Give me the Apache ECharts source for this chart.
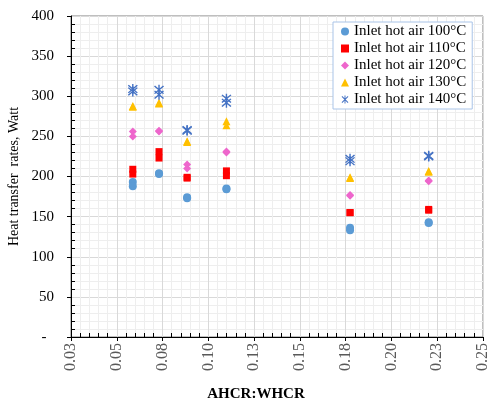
<!DOCTYPE html>
<html>
<head>
<meta charset="utf-8">
<script src="https://cdn.jsdelivr.net/npm/echarts@6/dist/echarts.min.js"></script>
<style>
  html, body { margin: 0; padding: 0; background: #fff; }
  #chart { width: 488px; height: 403px; }
</style>
</head>
<body>
<div id="chart"></div>
<script>
// two replicate runs per AHCR:WHCR ratio
const ratios = [0.063, 0.063, 0.077, 0.077, 0.092, 0.092, 0.113, 0.113, 0.179, 0.179, 0.221, 0.221];

const heat100 = [193, 188, 204, 203, 174, 173, 185, 184, 136, 133, 143, 142];
const heat110 = [209, 203, 231, 223, 199, 198, 207, 201, 155, 155, 159, 158];
const heat120 = [256, 250, 257, 256, 215, 210, 231, 230, 177, 176, 195, 194];
const heat130 = [288, 287, 292, 291, 244, 243, 269, 264, 199, 198, 207, 206];
const heat140 = [309, 306, 308, 302, 258, 257, 297, 292, 222, 219, 226, 225];

const seriesNames = ['Inlet hot air 100°C', 'Inlet hot air 110°C', 'Inlet hot air 120°C',
    'Inlet hot air 130°C', 'Inlet hot air 140°C'];

const X_MIN = 0.03, X_MAX = 0.25, X_STEP = (0.25 - 0.03) / 9;

// asterisk marker (x plus vertical bar), like the Excel star
const STAR = 'path://M-0.12,-1L0.12,-1L0.12,1L-0.12,1Z' +
    'M-0.85,-0.68L-0.68,-0.85L0.85,0.68L0.68,0.85Z' +
    'M0.68,-0.85L0.85,-0.68L-0.68,0.85L-0.85,0.68Z';

const styles = [
    { color: '#5B9BD5', symbol: 'circle', size: 8 },
    { color: '#FF0000', symbol: 'rect', size: 7 },
    { color: '#EE66CC', symbol: 'diamond', size: 8 },
    { color: '#FFC000', symbol: 'triangle', size: 8 },
    { color: '#4472C4', symbol: STAR, size: 10 },
];

const FONT = '"Liberation Serif", "Times New Roman", serif';

const chart = echarts.init(document.getElementById('chart'), null, { renderer: 'canvas' });

const values = [heat100, heat110, heat120, heat130, heat140];
const series = values.map((ys, i) => ({
    name: seriesNames[i], type: 'scatter',
    xAxisIndex: 0, yAxisIndex: 0,
    data: ys.map((y, j) => [ratios[j], y]),
    symbol: styles[i].symbol, symbolSize: styles[i].size,
    itemStyle: { color: styles[i].color, opacity: 1 },
    animation: false,
}));

const gridLines = {
    splitLine: { show: true, lineStyle: { color: '#d9d9d9', width: 1 } },
    minorSplitLine: { show: true, lineStyle: { color: '#eeeeee', width: 1 } },
};

chart.setOption({
    animation: false,
    grid: {
        left: 71, right: 5, top: 16, bottom: 66, outerBoundsMode: 'none',
        show: true, borderColor: '#7f7f7f', borderWidth: 1,
    },
    legend: {
        orient: 'vertical', left: 333, top: 22,
        itemWidth: 8, itemHeight: 8, itemGap: 2,
        padding: [2, 6, 2, 8],
        borderColor: '#a9c4e8', borderWidth: 1, backgroundColor: '#fff',
        textStyle: { fontFamily: FONT, fontSize: 15, color: '#000' },
        data: seriesNames,
    },
    xAxis: [{
        type: 'value', min: X_MIN, max: X_MAX, interval: X_STEP,
        name: 'AHCR:WHCR', nameLocation: 'middle', nameGap: 50, nameMoveOverlap: false,
        nameTextStyle: { fontFamily: FONT, fontSize: 15, fontWeight: 'bold', color: '#000', padding: [0, 42, 0, 0] },
        axisLine: { show: true, lineStyle: { color: '#000', width: 1 } },
        axisTick: { show: true, length: 4, lineStyle: { color: '#000' } },
        axisLabel: {
            rotate: 90, margin: 6, fontFamily: FONT, fontSize: 16, color: '#595959',
            formatter: v => v.toFixed(2),
        },
        minorTick: { show: false, splitNumber: 5 },
        ...gridLines,
    }, {
        // inside minor ticks
        type: 'value', min: X_MIN, max: X_MAX, interval: X_STEP, position: 'bottom',
        axisLine: { show: false }, axisLabel: { show: false },
        axisTick: { show: false, inside: true },
        minorTick: { show: true, splitNumber: 5, length: 4, lineStyle: { color: '#000' } },
        splitLine: { show: false },
    }],
    yAxis: [{
        type: 'value', min: 0, max: 400, interval: 50,
        name: 'Heat transfer  rates, Watt', nameLocation: 'middle', nameGap: 50, nameMoveOverlap: false,
        nameTextStyle: { fontFamily: FONT, fontSize: 14, color: '#000' },
        axisLine: { show: true, lineStyle: { color: '#000', width: 1 } },
        axisTick: { show: true, length: 4, lineStyle: { color: '#000' } },
        axisLabel: {
            margin: 17, fontFamily: FONT, fontSize: 15, color: '#000',
            formatter: v => v === 0 ? '-  ' : String(v),
        },
        minorTick: { show: false, splitNumber: 5 },
        ...gridLines,
    }, {
        type: 'value', min: 0, max: 400, interval: 50, position: 'left',
        axisLine: { show: false }, axisLabel: { show: false },
        axisTick: { show: false, inside: true },
        minorTick: { show: true, splitNumber: 5, length: 4, lineStyle: { color: '#000' } },
        splitLine: { show: false },
    }],
    series,
});
</script>
</body>
</html>
